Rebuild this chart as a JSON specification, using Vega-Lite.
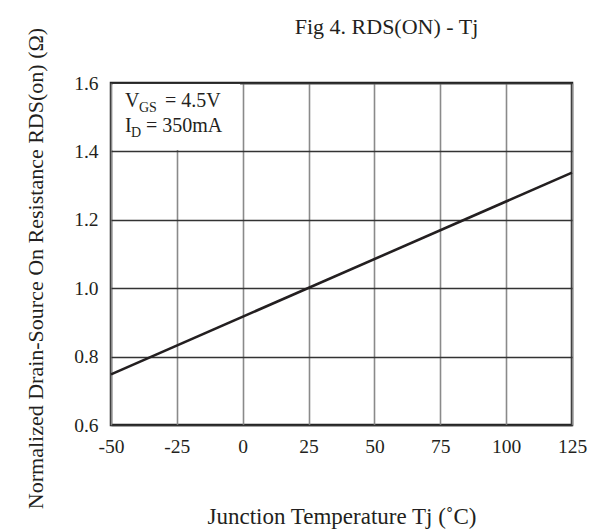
{
  "$schema": "https://vega.github.io/schema/vega-lite/v6.json",
  "width": 461,
  "height": 342,
  "autosize": "none",
  "padding": {"left": 111, "top": 83, "right": 27, "bottom": 104},
  "background": "white",
  "config": {
    "font": "Liberation Serif",
    "view": {"stroke": "#222222", "strokeWidth": 2.5}
  },
  "title": {
    "text": "Fig 4. RDS(ON) - Tj",
    "font": "Liberation Serif",
    "fontSize": 22,
    "fontWeight": "normal",
    "color": "#231f20",
    "anchor": "middle",
    "frame": "group",
    "offset": -12,
    "dx": 45
  },
  "datasets": {
    "curve": [
      {"tj": -50, "r": 0.748},
      {"tj": 125, "r": 1.338}
    ],
    "box": [
      {"x1": -49.4, "x2": -1, "y1": 1.404, "y2": 1.597}
    ],
    "bigtext": [
      {"x": -44.7, "y": 1.53, "t": "V"},
      {"x": -29.5, "y": 1.53, "t": "= 4.5V"},
      {"x": -44.7, "y": 1.457, "t": "I"},
      {"x": -36.7, "y": 1.457, "t": "= 350mA"}
    ],
    "subtext": [
      {"x": -39.4, "y": 1.515, "t": "GS"},
      {"x": -42.4, "y": 1.442, "t": "D"}
    ]
  },
  "layer": [
    {
      "data": {"name": "box"},
      "mark": {"type": "rect", "fill": "white", "stroke": null},
      "encoding": {
        "x": {
          "field": "x1", "type": "quantitative",
          "scale": {"domain": [-50, 125], "nice": false, "zero": false},
          "axis": {
            "values": [-50, -25, 0, 25, 50, 75, 100, 125],
            "labelExpr": "datum.value < 0 ? '-' + abs(datum.value) : datum.label",
            "title": "Junction Temperature  Tj (˚C)",
            "titleFont": "Liberation Serif",
            "titleFontSize": 23,
            "titleFontWeight": "normal",
            "titleColor": "#231f20",
            "titlePadding": 50,
            "labelFont": "Liberation Serif",
            "labelFontSize": 19.5,
            "labelColor": "#231f20",
            "labelPadding": 12,
            "ticks": false,
            "domain": false,
            "grid": true,
            "gridColor": "#8a8a8a",
            "gridWidth": 1.6,
            "gridOpacity": 1,
            "labelFlush": false
          }
        },
        "x2": {"field": "x2"},
        "y": {
          "field": "y1", "type": "quantitative",
          "scale": {"domain": [0.6, 1.6], "nice": false, "zero": false},
          "axis": {
            "values": [0.6, 0.8, 1.0, 1.2, 1.4, 1.6],
            "format": ".1f",
            "title": "Normalized Drain-Source On Resistance RDS(on) (Ω)",
            "titleFont": "Liberation Serif",
            "titleFontSize": 22,
            "titleFontWeight": "normal",
            "titleColor": "#231f20",
            "titleY": 185,
            "titlePadding": 26,
            "labelFont": "Liberation Serif",
            "labelFontSize": 19.5,
            "labelColor": "#231f20",
            "labelPadding": 13,
            "ticks": false,
            "domain": false,
            "grid": true,
            "gridColor": "#333333",
            "gridWidth": 1.6,
            "gridOpacity": 1,
            "labelFlush": false
          }
        },
        "y2": {"field": "y2"}
      }
    },
    {
      "data": {"name": "curve"},
      "mark": {"type": "line", "color": "#231f20", "strokeWidth": 2.6},
      "encoding": {
        "x": {"field": "tj", "type": "quantitative"},
        "y": {"field": "r", "type": "quantitative"}
      }
    },
    {
      "data": {"name": "bigtext"},
      "mark": {"type": "text", "align": "left", "baseline": "alphabetic", "font": "Liberation Serif", "fontSize": 20, "color": "#231f20"},
      "encoding": {
        "x": {"field": "x", "type": "quantitative"},
        "y": {"field": "y", "type": "quantitative"},
        "text": {"field": "t"}
      }
    },
    {
      "data": {"name": "subtext"},
      "mark": {"type": "text", "align": "left", "baseline": "alphabetic", "font": "Liberation Serif", "fontSize": 14, "color": "#231f20"},
      "encoding": {
        "x": {"field": "x", "type": "quantitative"},
        "y": {"field": "y", "type": "quantitative"},
        "text": {"field": "t"}
      }
    }
  ]
}
